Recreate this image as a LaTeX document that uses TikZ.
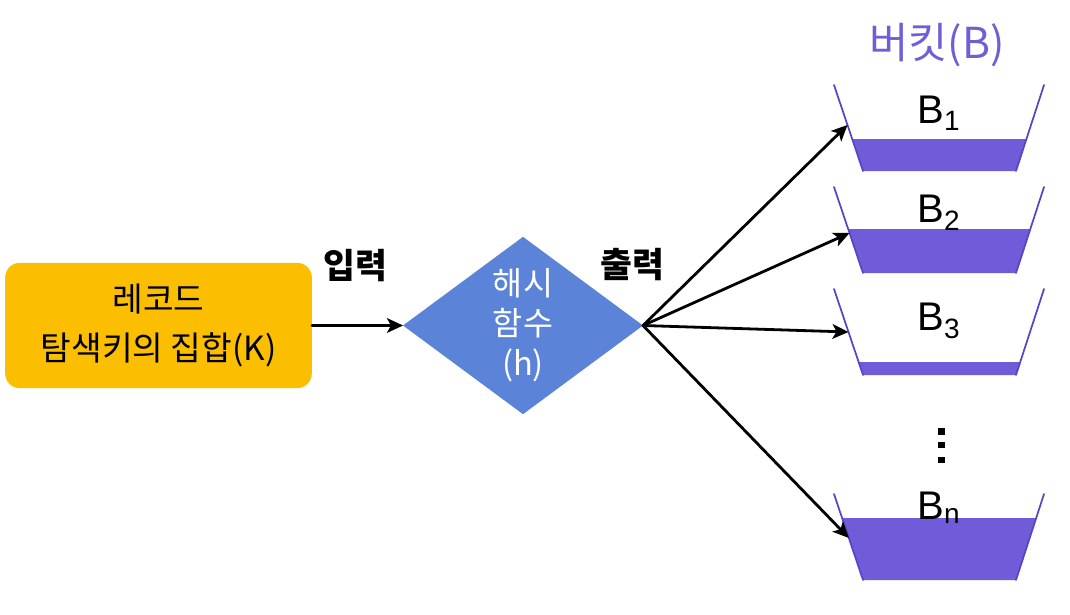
\documentclass[tikz,border=0pt]{standalone}
\usepackage{fontspec}
\setmainfont{Liberation Sans}
\newfontfamily\kr{Noto Sans CJK KR}
\usetikzlibrary{shapes.geometric,arrows.meta}
\definecolor{Kfill}{RGB}{251,190,0}
\definecolor{Hfill}{RGB}{91,132,216}
\definecolor{Bfill}{RGB}{113,91,216}
\definecolor{Bline}{RGB}{84,70,196}
\definecolor{Btext}{RGB}{112,94,214}

\begin{document}
\begin{tikzpicture}[x=0.75pt,y=-0.75pt,line cap=round,line join=round,
  recbox/.style={rectangle,rounded corners=11pt,fill=Kfill,minimum width=230pt,minimum height=94pt,
    align=center,font=\kr\fontsize{25}{37}\selectfont},
  hashfn/.style={diamond,fill=Hfill,minimum width=180pt,minimum height=133pt,inner sep=0pt,outer sep=0pt},
  hashtext/.style={align=center,text=white,font=\kr\fontsize{24.5}{30}\selectfont},
  iolabel/.style={font=\kr\bfseries\fontsize{26}{27}\selectfont},
  bname/.style={anchor=base,font=\fontsize{30}{32}\selectfont},
  flow/.style={line width=2.1pt,-{Stealth[length=12pt,width=11pt,inset=3pt]}},
  side/.style={draw=Bline,line width=1.3pt}]
\path[use as bounding box] (0,0) rectangle (1070,614);

% input and hash function
\node[recbox] (rec) at (158.5,325.5) {레코드\\탐색키의 집합(K)};
\node[hashfn,label={[hashtext]center:해시\\함수\\(h)}] (hash) at (523,325.5) {};
\node[iolabel] (inlbl) at (355,266) {입력};
\node[iolabel] (outlbl) at (632,265) {출력};
\draw[flow] (rec.east) -- (hash.west);

% buckets: top / fill top / arrow y / label baseline / name
\node[font=\kr\fontsize{32}{34}\selectfont,text=Btext] (btitle) at (937,45) {버킷(B)};
\foreach \t/\f/\a/\lb/\nm [count=\i] in {85/139/125/123/1, 187/229/233/222/2, 289/362/332/330/3, 494/518/538/519/n}{
  \pgfmathsetmacro{\d}{\f-\t}
  \pgfmathsetmacro{\e}{\a-\t}
  \begin{scope}[yshift=-0.75*\t pt]
    \fill[Bfill] ({834+29*\d/86},\d) -- ({1044-28*\d/86},\d) -- (1016,86) -- (863,86) -- cycle;
    \draw[side] (834,0) -- (863,86);
    \draw[side] (1044,0) -- (1016,86);
    \coordinate (in\i) at ({834+29*\e/86},\e);
    \node[bname] (b\i) at (939,\lb-\t) {B\textsubscript{\nm}};
  \end{scope}
  \draw[flow] (hash.east) -- (in\i);
}

% vertical dots
\foreach \y in {431.5,445,460}
  \fill ({941.5-3.3},{\y-3.3}) rectangle ({941.5+3.3},{\y+3.3});
\end{tikzpicture}
\end{document}
